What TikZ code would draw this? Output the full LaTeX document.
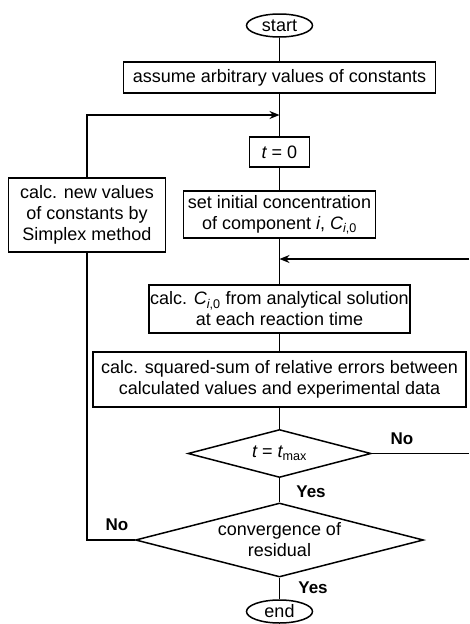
\documentclass[tikz,border=0pt]{standalone}
\usepackage{fontspec}
\setmainfont{Liberation Sans}
\usetikzlibrary{shapes.geometric,arrows.meta}
\tikzset{
  base/.style={font=\fontsize{18}{21}\selectfont, align=center, inner sep=0pt, line width=1.5pt},
  boxnode/.style={base, draw, rectangle},
  termnode/.style={base, draw, ellipse, minimum width=66pt, minimum height=23pt},
  decnode/.style={base, draw, diamond, shape aspect=3.85},
  lab/.style={font=\fontsize{17}{20}\selectfont\bfseries, inner sep=0pt},
  conn/.style={line width=1.5pt},
  arr/.style={line width=1.5pt, -{Stealth[length=10pt,width=8pt]}}
}
\newcommand{\cio}{{\itshape C}\textsubscript{{\itshape i},0}}
\begin{document}
\begin{tikzpicture}[x=1pt,y=-1pt]
\useasboundingbox (0,0) rectangle (469,624);
\def\X{279.5}
\node[termnode] (start) at (\X,25.5) {start};
\node[boxnode, minimum width=312pt, minimum height=31pt] (assume) at (\X,77.5) {assume arbitrary values of constants};
\node[boxnode, minimum width=60pt, minimum height=30pt] (t0) at (\X,152) {{\itshape t} = 0};
\node[boxnode, minimum width=157pt, minimum height=74pt] (newc) at (87,215) {calc. new values\\of constants by\\Simplex method};
\node[boxnode, minimum width=192pt, minimum height=47pt] (set) at (\X,214.5) {set initial concentration\\of component {\itshape i}, \cio};
\node[boxnode, minimum width=261pt, minimum height=48pt] (calcC) at (\X,309) {calc. \cio{} from analytical solution\\at each reaction time};
\node[boxnode, minimum width=373pt, minimum height=55pt] (sq) at (\X,379.5) {calc. squared-sum of relative errors between\\calculated values and experimental data};
\node[decnode, minimum width=183pt, minimum height=48pt] (d1) at (\X,453.5) {{\itshape t} = {\itshape t}\textsubscript{max}};
\node[decnode, minimum width=288pt, minimum height=74pt] (d2) at (\X,540) {convergence of\\residual};
\node[termnode] (end) at (\X,611.5) {end};

\coordinate (j1) at (\X,115);
\coordinate (j2) at (\X,259);
\coordinate (rlo) at (469,453.5);
\coordinate (rhi) at (469,259);

\draw[conn] (start) -- (assume);
\draw[conn] (assume) -- (t0);
\draw[conn] (t0) -- (set);
\draw[conn] (set) -- (calcC);
\draw[conn] (calcC) -- (sq);
\draw[conn] (sq) -- (d1);
\draw[conn] (d1) -- (d2);
\draw[conn] (d2) -- (end);
\draw[conn] (d1.east) -- (rlo);
\draw[arr] (rhi) -- (j2);
\draw[conn] (d2.west) -| (newc.south);
\draw[arr] (newc.north) |- (j1);

\node[lab] (no1) at (402,439) {No};
\node[lab] (yes1) at (311,492) {Yes};
\node[lab] (no2) at (117,525) {No};
\node[lab] (yes2) at (313,588) {Yes};
\end{tikzpicture}
\end{document}
